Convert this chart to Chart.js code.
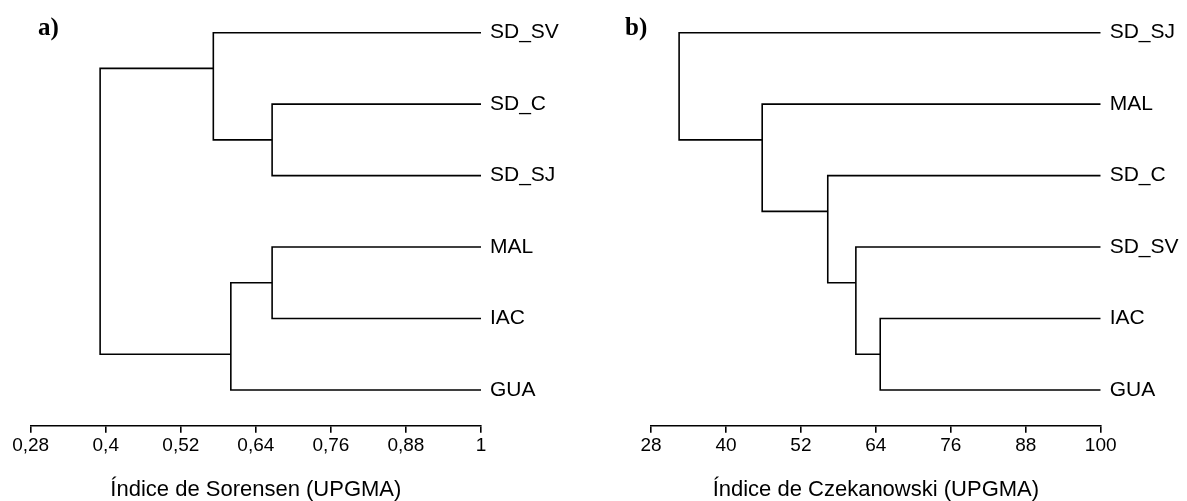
<!DOCTYPE html>
<html>
<head>
<meta charset="utf-8">
<script src="https://cdn.jsdelivr.net/npm/chart.js@4"></script>
<style>
  body { margin: 0; background: #fff; }
  #wrap { position: relative; width: 1187px; height: 501px; }
  canvas { position: absolute; top: 0; }
  .tag { position: absolute; top: 14px; font: bold 25px/1 "Liberation Serif", "Times New Roman", serif; color: #000; }
</style>
</head>
<body>
<div id="wrap">
  <canvas id="chartA" width="600" height="501" style="left:0"></canvas>
  <canvas id="chartB" width="587" height="501" style="left:600px"></canvas>
  <div class="tag" style="left:38px">a)</div>
  <div class="tag" style="left:625px">b)</div>
</div>
<script>
// a) Sorensen
const leavesA = ["SD_SV", "SD_C", "SD_SJ", "MAL", "IAC", "GUA"];
const mergeLeftA = [1, 3, 0, 7, 8];      // nodes 6..10, leaves are 0..5
const mergeRightA = [2, 4, 6, 5, 9];
const mergeHeightA = [0.666, 0.666, 0.572, 0.600, 0.391];
const mergeRowA = [1.5, 3.5, 0.5, 4.5, null];
const ticksA = [0.28, 0.4, 0.52, 0.64, 0.76, 0.88, 1];

// b) Czekanowski
const leavesB = ["SD_SJ", "MAL", "SD_C", "SD_SV", "IAC", "GUA"];
const mergeLeftB = [4, 3, 2, 1, 0];
const mergeRightB = [5, 6, 7, 8, 9];
const mergeHeightB = [64.7, 60.8, 56.3, 45.8, 32.5];
const mergeRowB = [4.5, 3.5, 2.5, 1.5, null];
const ticksB = [28, 40, 52, 64, 76, 88, 100];

Chart.defaults.font.family = '"Liberation Sans", Arial, Helvetica, sans-serif';
Chart.defaults.color = "#000";

// one elbow (U shape) per merge
function buildLinks(leaves, left, right, height, row, leafEnd) {
  const n = leaves.length;
  const pos = (id) => id < n ? { x: leafEnd, y: id } : { x: height[id - n], y: row[id - n] };
  return height.map((h, i) => {
    const a = pos(left[i]), b = pos(right[i]);
    return {
      data: [{ x: a.x, y: a.y }, { x: h, y: a.y }, { x: h, y: b.y }, { x: b.x, y: b.y }],
      borderColor: "#000",
      borderWidth: 1.6,
      pointRadius: 0,
      tension: 0,
      fill: false,
    };
  });
}

function makeChart(id, leaves, left, right, height, row, ticks, title, area) {
  const ctx = document.getElementById(id).getContext("2d");
  const fmt = (v) => String(v).replace(".", ",");
  return new Chart(ctx, {
    type: "line",
    data: { datasets: buildLinks(leaves, left, right, height, row, ticks[ticks.length - 1]) },
    options: {
      responsive: false,
      animation: false,
      layout: { padding: { left: area.left, top: 4.1, right: 0, bottom: 0 } },
      plugins: { legend: { display: false }, tooltip: { enabled: false } },
      scales: {
        x: {
          type: "linear",
          min: ticks[0],
          max: ticks[ticks.length - 1],
          afterBuildTicks: (s) => { s.ticks = ticks.map((v) => ({ value: v })); },
          afterFit: (s) => { s.height = 75.3; s.paddingLeft = 0; s.paddingRight = 0; },
          grid: { drawOnChartArea: false, drawTicks: true, tickLength: 7, color: "#000", lineWidth: 1.6 },
          border: { display: true, color: "#000", width: 1.6 },
          ticks: { padding: 1.5, font: { size: 19 }, color: "#000", callback: (v) => fmt(v), maxRotation: 0, autoSkip: false },
          title: { display: true, text: title, font: { size: 22, lineHeight: 1 }, color: "#000", padding: { top: 0, bottom: 0.5 } },
        },
        y: {
          type: "linear",
          position: "right",
          reverse: true,
          min: -0.4,
          max: 5.5,
          afterBuildTicks: (s) => { s.ticks = leaves.map((_, i) => ({ value: i })); },
          afterFit: (s) => { s.width = area.yWidth; s.paddingTop = 0; s.paddingBottom = 0; },
          grid: { display: false, drawTicks: false },
          border: { display: false },
          ticks: { padding: 9, font: { size: 21 }, color: "#000", callback: (v) => leaves[v], autoSkip: false },
        },
      },
    },
  });
}

makeChart("chartA", leavesA, mergeLeftA, mergeRightA, mergeHeightA, mergeRowA, ticksA,
  "Índice de Sorensen (UPGMA)", { left: 30.7, yWidth: 119 });
makeChart("chartB", leavesB, mergeLeftB, mergeRightB, mergeHeightB, mergeRowB, ticksB,
  "Índice de Czekanowski (UPGMA)", { left: 51, yWidth: 86.3 });
</script>
</body>
</html>
